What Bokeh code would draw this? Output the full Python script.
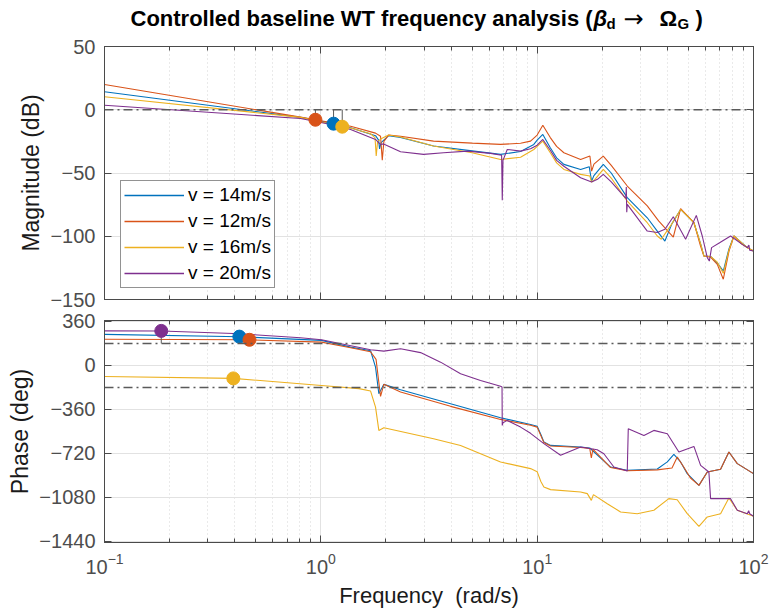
from bokeh.plotting import figure
from bokeh.models import (Range1d, FixedTicker, LinearAxis, LogAxis, Span, Legend,
                          LegendItem, Label)
from bokeh.layouts import column
from bokeh.embed import file_html
from bokeh.resources import INLINE

# ---------------- data ----------------
series_names = ["v = 14m/s", "v = 12m/s", "v = 16m/s", "v = 20m/s"]
series_colors = ["#0072BD", "#D95319", "#EDB120", "#7E2F8E"]

mag_w_14 = [0.1, 0.805, 1.145, 1.373, 1.79, 1.85, 1.868, 1.9, 2.056, 2.336, 3.319, 5.0, 6.773, 8.38,
            9.65, 10.0, 10.62, 11.5, 12.3, 13.29, 15.88, 17.4, 17.85, 18.3, 20.21, 22.0, 26.09, 32.28,
            35.91, 38.95, 42.0, 46.03, 53.04, 56.96, 58.98, 63.34, 68.02, 72.5, 77.0, 81.18, 88.0,
            93.61, 100.0]
mag_db_14 = [14.2, -6, -11, -14.2, -20.5, -24, -31, -26, -20.5, -22, -28.7, -32.5, -35.3, -33,
             -27.4, -24, -19.5, -30, -38, -43.2, -47.2, -45, -56.4, -52, -43.2, -50, -69.5, -85.4,
             -95.9, -103.8, -90, -78.8, -89.3, -106, -115.6, -116, -121, -127.5, -110, -99.8, -105,
             -109, -111.7]

mag_w_12 = [0.1, 0.805, 0.945, 1.145, 1.373, 1.79, 1.888, 1.923, 1.956, 2.056, 2.336, 3.319, 5.0,
            6.773, 8.38, 9.32, 10.0, 10.62, 11.5, 12.3, 13.29, 15.88, 17.53, 17.85, 18.3, 20.21, 22.0,
            26.09, 32.28, 36.5, 42.59, 46.03, 53.04, 56.96, 58.98, 63.34, 68.02, 72.5, 77.0, 81.18,
            88.0, 93.61, 100.0]
mag_db_12 = [20, -5.8, -7.9, -10.5, -13, -18.5, -21, -39.8, -25, -20, -21, -24.8, -26.4,
             -27.4, -26.5, -24.8, -20, -12.2, -22, -29, -34, -39.3, -36.6, -48.5, -43, -36.6, -44,
             -60.3, -76, -88, -100.6, -78.2, -89.3, -108, -115.6, -116.5, -122.2, -134, -112, -99.8,
             -106, -109, -111.7]

mag_w_16 = [0.1, 0.805, 1.26, 1.373, 1.698, 1.78, 1.803, 1.83, 1.9, 2.056, 2.336, 3.319, 5.0, 6.773,
            8.38, 9.65, 10.0, 10.62, 11.5, 12.3, 13.29, 15.88, 17.53, 17.85, 18.5, 20.21, 22.0, 26.09,
            32.28, 35.91, 37.48, 42.0, 46.03, 53.04, 56.96, 58.98, 63.34, 68.02, 72.5, 77.0, 81.18,
            88.0, 93.61, 100.0]
mag_db_16 = [10.3, -6, -13.4, -14.5, -19, -22, -36.6, -25, -23, -20, -21.5, -28.7, -34, -39.3,
             -37.5, -31.4, -29, -24.8, -34, -42, -47.2, -51.1, -52.4, -57.2, -55, -47.2, -54, -72.2,
             -89.3, -99.8, -102.4, -90, -78.8, -89.3, -106, -115.6, -116, -120.5, -129.3, -111, -99.8,
             -105, -109, -111.7]

mag_w_20 = [0.1, 0.805, 1.145, 1.373, 1.79, 1.888, 1.95, 2.336, 2.984, 3.693, 4.768, 6.088, 6.85,
            6.897, 6.95, 7.273, 8.38, 9.32, 10.0, 10.62, 11.5, 12.3, 13.29, 15.88, 17.85, 19.0, 20.21,
            22.0, 25.7, 25.82, 25.95, 26.09, 32.28, 35.91, 38.95, 42.59, 48.55, 54.41, 58.0, 61.15,
            62.5, 64.0, 70.0, 78.37, 88.0, 93.61, 95.22, 96.0, 100.0]
mag_db_20 = [3.6, -6.9, -12, -15.6, -23.5, -27.5, -27, -33.2, -35.3, -34, -32.7, -34.5, -36,
             -71.6, -40, -31.4, -32.7, -30.8, -28, -23.5, -32, -40, -44.7, -53.7, -57.2, -55, -51.1,
             -57, -70, -61, -81, -74.8, -95.9, -97, -94.5, -84.6, -102.4, -83.5, -100, -116.9,
             -119.6, -109, -105, -99.8, -106, -109, -107, -111, -111.7]

ph_w_14 = [0.1, 0.426, 1.007, 1.373, 1.698, 1.79, 1.854, 1.956, 2.336, 3.979, 6.773, 9.32, 10.0,
           10.4, 10.74, 11.53, 15.88, 17.5, 21.84, 26.09, 35.91, 39.96, 42.85, 46.03, 49.4, 55.95,
           61.15, 70.45, 76.96, 84.16, 100.0]
ph_14 = [254, 235, 205, 150, 120, -14, -232, -155, -199, -314, -428, -483, -498, -565, -627, -655,
         -668, -676, -832, -859, -848, -790, -728, -790, -886, -982, -873, -850, -709, -804, -886]

ph_w_12 = [0.1, 0.468, 1.007, 1.373, 1.698, 1.8, 1.888, 1.956, 2.336, 3.979, 6.773, 9.32, 10.0, 10.4,
           10.74, 11.53, 15.88, 17.5, 17.8, 18.1, 21.84, 26.09, 35.91, 42.0, 44.43, 47.5, 51.0, 55.95,
           61.15, 70.45, 76.96, 84.16, 100.0]
ph_12 = [215, 210, 191, 145, 112, 50, -254, -155, -218, -335, -442, -490, -505, -575, -632, -660,
         -672, -680, -758, -685, -836, -862, -855, -840, -750, -830, -920, -982, -873, -850, -709,
         -804, -886]

ph_w_16 = [0.1, 0.394, 1.007, 1.5, 1.698, 1.79, 1.854, 1.956, 3.319, 4.425, 6.773, 9.32, 10.0, 10.4,
           10.74, 11.53, 15.88, 17.05, 17.8, 18.2, 21.09, 24.3, 29.0, 34.63, 40.6, 44.4, 49.4, 55.95,
           61.15, 70.45, 76.96, 84.16, 100.0]
ph_16 = [-90, -106, -164, -190, -210, -341, -532, -510, -600, -655, -791, -845, -870, -950, -995,
         -1017, -1036, -1050, -1105, -1058, -1132, -1200, -1214, -1186, -1091, -1100, -1214, -1317,
         -1241, -1214, -1086, -1186, -1235]

ph_w_20 = [0.1, 0.183, 0.426, 0.805, 1.007, 1.698, 1.956, 2.336, 2.89, 3.577, 4.425, 5.473, 6.773,
           6.88, 6.897, 6.95, 7.273, 8.38, 9.32, 10.74, 12.83, 15.88, 18.95, 20.34, 22.63, 26.09,
           26.37, 31.14, 34.63, 39.96, 45.19, 53.04, 56.96, 62.2, 63.34, 78.37, 84.16, 93.61, 95.0,
           96.0, 100.0]
ph_20 = [283, 282, 259, 227, 210, 128, 117, 136, 105, 27, -68, -123, -170, -177, -491, -470, -450,
         -505, -556, -640, -736, -668, -690, -723, -832, -865, -518, -573, -532, -559, -709, -663,
         -818, -873, -1091, -1091, -1186, -1214, -1190, -1214, -1235]

# margin markers: gain crossover (magnitude panel) -- series 14, 12, 16
gc_series = [0, 1, 2]
gc_w = [1.145, 0.944, 1.256]
gc_db = [-11, -7.9, -13.4]
# phase-panel markers -- series 14, 12, 16, 20
pc_series = [0, 1, 2, 3]
pc_w = [0.42, 0.468, 0.394, 0.183]
pc_deg = [236, 210, -106, 283]
pc_ref = [180, 180, -180, 180]

mag_ticks = [-150, -100, -50, 0, 50]
ph_ticks = [-1440, -1080, -720, -360, 0, 360]
x_ticks = [0.1, 1, 10, 100]
x_minor = [m * d for d in (0.1, 1, 10) for m in range(2, 10)]

mag_w = [mag_w_14, mag_w_12, mag_w_16, mag_w_20]
mag_db = [mag_db_14, mag_db_12, mag_db_16, mag_db_20]
ph_w = [ph_w_14, ph_w_12, ph_w_16, ph_w_20]
ph_deg = [ph_14, ph_12, ph_16, ph_20]

# ---------------- styling ----------------
FONT = "Liberation Sans"
AXC = "#4a4a4a"
TICKC = "#4d4d4d"
GRIDC = "#e2e2e2"
MINC = "#d4d4d4"
MARGC = "#5a5a5a"
LEFT, RIGHT = 104, 18


def panel(height, btop, bbot, yr, yticks, show_x):
    xt = FixedTicker(ticks=x_ticks, minor_ticks=x_minor)
    yt = FixedTicker(ticks=yticks)
    p = figure(width=771, height=height, x_axis_type="log", x_range=Range1d(0.1, 100),
               y_range=Range1d(*yr), output_backend="svg", toolbar_location=None,
               min_border_left=LEFT, min_border_right=RIGHT, min_border_top=btop,
               min_border_bottom=bbot)
    p.outline_line_color = AXC
    p.background_fill_color = "white"
    p.border_fill_color = "white"
    xa = p.xaxis[0]
    ya = p.yaxis[0]
    xa.ticker = xt
    ya.ticker = yt
    for a in (xa, ya):
        a.major_tick_in = 7
        a.major_tick_out = 0
        a.minor_tick_in = 4
        a.minor_tick_out = 0
        a.axis_line_color = AXC
        a.major_tick_line_color = AXC
        a.minor_tick_line_color = AXC
        a.major_label_text_font = FONT
        a.major_label_text_font_size = "20px"
        a.major_label_text_color = TICKC
        a.axis_label_text_font = FONT
        a.axis_label_text_font_size = "23px"
        a.axis_label_text_font_style = "normal"
        a.axis_label_text_color = "#1a1a1a"
    ya.minor_tick_line_color = None
    ya.major_label_standoff = 9
    ya.axis_label_standoff = 3
    if show_x:
        xa.major_label_standoff = 10
        xa.axis_label = "Frequency\u00a0 (rad/s)"
        xa.axis_label_text_font_size = "22px"
        xa.axis_label_standoff = 6
    else:
        xa.major_label_text_font_size = "1px"
        xa.major_label_text_alpha = 0
        xa.major_label_standoff = 0
    p.xgrid.ticker = xt
    p.ygrid.ticker = yt
    p.xgrid.grid_line_color = GRIDC
    p.ygrid.grid_line_color = GRIDC
    p.xgrid.minor_grid_line_color = MINC
    p.xgrid.minor_grid_line_dash = "1 3"
    # box ticks (top / right)
    top = LogAxis(ticker=xt, major_label_text_font_size="1px", major_label_text_alpha=0,
                  major_label_standoff=0,
                  major_tick_in=7, major_tick_out=0, minor_tick_in=4, minor_tick_out=0,
                  axis_line_color=AXC, major_tick_line_color=AXC, minor_tick_line_color=AXC)
    right = LinearAxis(ticker=yt, major_label_text_font_size="1px", major_label_text_alpha=0,
                       major_label_standoff=0,
                       major_tick_in=7, major_tick_out=0, minor_tick_line_color=None,
                       axis_line_color=AXC, major_tick_line_color=AXC)
    p.add_layout(top, "above")
    p.add_layout(right, "right")
    return p


# ---------------- title (page-pixel coordinates) ----------------
pt = figure(width=771, height=36, x_range=Range1d(LEFT, 771 - RIGHT), y_range=Range1d(0, 36),
            output_backend="svg", toolbar_location=None, x_axis_type=None, y_axis_type=None,
            min_border_left=LEFT, min_border_right=RIGHT, min_border_top=0, min_border_bottom=0)
pt.grid.visible = False
pt.outline_line_color = None
TS = "22px"
SS = "15px"
pieces = [
    ("Controlled baseline WT frequency analysis (", 130, 18, TS, "bold", FONT),
    ("\u03b2", 593, 18, TS, "bold italic", FONT),
    ("d", 606, 13, SS, "bold", FONT),
    ("\u2192", 623, 18, "24px", "normal", "DejaVu Sans"),
    ("\u03a9", 659, 18, TS, "bold", FONT),
    ("G", 677, 13, SS, "bold", FONT),
    (")", 695, 18, TS, "bold", FONT),
]
for txt, x, y, fs, st, fnt in pieces:
    pt.add_layout(Label(x=x, y=y, text=txt, text_font=fnt, text_font_size=fs,
                        text_font_style=st, text_color="black", text_baseline="alphabetic"))

# ---------------- magnitude ----------------
p1 = panel(274, 10, 11, (-150, 50), mag_ticks, False)
p1.yaxis[0].axis_label = "Magnitude (dB)"
p1.add_layout(Span(location=0, dimension="width", line_color=MARGC, line_width=1.5,
                   line_dash="9 4 2 4"))
items = []
for i in range(4):
    p1.line(mag_w[i], mag_db[i], line_color=series_colors[i], line_width=1.1)
for i in range(4):
    # legend-only proxies (no visible data), slightly thicker so the key reads clearly
    r = p1.line([float("nan")], [float("nan")], line_color=series_colors[i], line_width=1.6)
    items.append(LegendItem(label=series_names[i], renderers=[r]))
for k, i in enumerate(gc_series):
    p1.segment(x0=[gc_w[k]], y0=[0], x1=[gc_w[k]], y1=[gc_db[k]], line_color=MARGC, line_width=1)
for k, i in enumerate(gc_series):
    p1.scatter([gc_w[k]], [gc_db[k]], size=13, fill_color=series_colors[i],
               line_color=series_colors[i])
leg = Legend(items=items, location=(16, 11), label_text_font=FONT, label_text_font_size="19px",
             label_text_color="black", glyph_width=60, glyph_height=22, label_height=22,
             spacing=4, padding=3, margin=0, label_standoff=4, border_line_color="#262626",
             border_line_width=1, background_fill_color="white", background_fill_alpha=1)
p1.add_layout(leg)

# ---------------- phase ----------------
p2 = panel(304, 10, 72, (-1450, 368), ph_ticks, True)
p2.yaxis[0].axis_label = "Phase (deg)"
for loc in (180, -180):
    p2.add_layout(Span(location=loc, dimension="width", line_color=MARGC, line_width=1.5,
                       line_dash="9 4 2 4"))
for i in range(4):
    p2.line(ph_w[i], ph_deg[i], line_color=series_colors[i], line_width=1.1)
for k, i in enumerate(pc_series):
    p2.segment(x0=[pc_w[k]], y0=[pc_ref[k]], x1=[pc_w[k]], y1=[pc_deg[k]], line_color=MARGC,
               line_width=1)
for k, i in enumerate(pc_series):
    p2.scatter([pc_w[k]], [pc_deg[k]], size=13, fill_color=series_colors[i],
               line_color=series_colors[i])

layout = column(pt, p1, p2, spacing=0)
open("out.html", "w").write(file_html(layout, INLINE))
